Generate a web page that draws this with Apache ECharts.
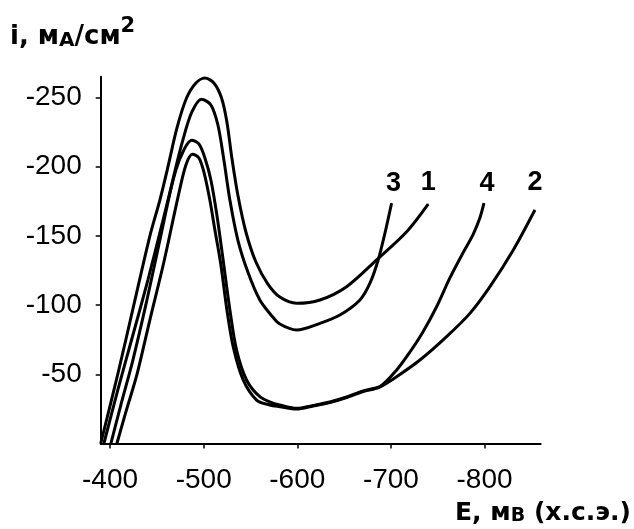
<!DOCTYPE html>
<html>
<head>
<meta charset="utf-8">
<script src="https://cdn.jsdelivr.net/npm/echarts@6/dist/echarts.min.js"></script>
<style>
  html, body { margin: 0; padding: 0; background: #fff; }
  #chart { width: 634px; height: 529px; }
</style>
</head>
<body>
<div id="chart"></div>
<script>
// поляризационные кривые: E, мВ (х.с.э.) и i, мА/см2
const e1 = [-390, -408.3, -425.4, -442.5, -453.2, -461.8, -471.4, -481.7, -491.7, -501.3, -510.9, -519.1, -524.8, -530.1, -536.5, -545.1, -555.8, -568.6, -581.4, -599.3, -624.2, -652.7, -684.7, -716.8, -739.8]
const i1 = [0, -50.2, -100.1, -149.9, -175.9, -199.8, -227.9, -249.6, -260.5, -264, -260.5, -249.6, -232.3, -206.3, -179.5, -152.8, -131.1, -115.2, -105.8, -101.3, -103.7, -113.3, -132.6, -153, -173]

const e2 = [-393.4, -408.3, -424.4, -440.4, -455.3, -470.3, -478.8, -487.1, -494.9, -501.3, -507.7, -514.1, -520.5, -528, -535.1, -545.8, -560, -574.3, -581.4, -599.3, -617, -634.8, -652.7, -670.4, -688.2, -706.1, -731, -759.5, -784.4, -805.8, -830.7, -853.8]
const i2 = [0, -38.7, -78.4, -118.1, -157.9, -197.6, -212.1, -219, -216.4, -206.3, -190.4, -165.1, -134, -96.5, -67.6, -45.9, -33.8, -29, -27.8, -25.4, -27.5, -30, -33.6, -38, -41, -48.3, -60.3, -77.2, -94, -113.3, -139.8, -168.7]

const e3 = [-400.9, -411.5, -424.4, -438.2, -452.1, -467.1, -477.8, -487.4, -497.8, -507.7, -515.2, -521.6, -528, -536.5, -547.2, -560, -572.9, -581.4, -599.3, -624.2, -645.5, -666.9, -677.6, -686.4, -693.6, -700.7]
const i3 = [0, -27.8, -60.3, -100.1, -143.4, -190.4, -219.3, -239.5, -248.7, -244.6, -230.1, -204.8, -175.9, -147, -123.9, -103.7, -92.1, -86.3, -82, -86.8, -92.8, -103.7, -115.8, -132.6, -151.9, -173.6]

const e4 = [-407.3, -416.9, -428.6, -442.5, -457.5, -472.4, -481, -488.1, -494.9, -500.2, -506.6, -512, -518.4, -524.8, -531.5, -542.2, -556.5, -570.7, -581.4, -599.3, -617, -634.8, -652.7, -670.4, -688.2, -706.1, -720.3, -734.2, -748.8, -763, -776.9, -787.6, -795, -799.4]
const i4 = [0, -22.8, -49.5, -89.2, -131.1, -177.4, -201.2, -209, -206.3, -196.2, -175.9, -154.2, -128.9, -96.5, -70, -45.9, -31.4, -27.8, -26.6, -24.9, -27.1, -29.6, -33.2, -37.6, -41, -53.1, -66.1, -80.6, -98.8, -119.6, -137.6, -150.7, -162.9, -173.6]

const curveNames = ['1', '2', '3', '4']
const xTicks = [-400, -500, -600, -700, -800]
const yTicks = [-250, -200, -150, -100, -50]

const sans = 'Liberation Sans, Arial, sans-serif'
const wide = 'DejaVu Sans, sans-serif'

const curves = [[e1, i1], [e2, i2], [e3, i3], [e4, i4]]
// сдвиги подписей номеров кривых над концом линии
const labelShift = [[0, -2], [0, -8], [2, -1], [3, -1]]

const chart = echarts.init(document.getElementById('chart'))

const option = {
  animation: false,
  grid: { left: 100.7, right: 93.3, top: 76.7, bottom: 85.5, outerBoundsMode: 'none' },
  xAxis: {
    type: 'value',
    inverse: true,
    min: -860,
    max: -390,
    splitLine: { show: false },
    axisLine: { onZero: false, lineStyle: { color: '#000', width: 2 } },
    axisTick: { customValues: xTicks, length: 5, lineStyle: { color: '#000', width: 1.5 } },
    axisLabel: { customValues: xTicks, margin: 23, fontSize: 28, color: '#000', fontFamily: sans }
  },
  yAxis: {
    type: 'value',
    inverse: true,
    min: -265,
    max: 0,
    splitLine: { show: false },
    axisLine: { onZero: false, lineStyle: { color: '#000', width: 2 } },
    axisTick: { customValues: yTicks, length: 5, lineStyle: { color: '#000', width: 1.5 } },
    axisLabel: { customValues: yTicks, margin: 19, fontSize: 28, color: '#000', fontFamily: sans }
  },
  series: curves.map(([e, i], k) => ({
    type: 'line',
    name: curveNames[k],
    smooth: 0.3,
    symbol: 'none',
    clip: false,
    silent: true,
    lineStyle: { color: '#000', width: 3 },
    data: e.map((x, j) => j === e.length - 1
      ? {
          value: [x, i[j]],
          symbol: 'circle',
          symbolSize: 1,
          itemStyle: { color: '#000' },
          label: {
            show: true,
            position: 'top',
            distance: 5,
            offset: labelShift[k],
            formatter: curveNames[k],
            fontSize: 27,
            fontWeight: 'bold',
            color: '#000',
            fontFamily: sans
          }
        }
      : [x, i[j]])
  })),
  graphic: [
    {
      type: 'text',
      left: 10,
      top: 24.7,
      style: {
        text: '{a|i, м}{b|А}{a|/см}',
        fill: '#000',
        rich: {
          a: { fontSize: 26, fontWeight: 'bold', fontFamily: wide, fill: '#000' },
          b: { fontSize: 20, fontWeight: 'bold', fontFamily: wide, fill: '#000', verticalAlign: 'bottom' }
        }
      }
    },
    {
      type: 'text',
      left: 120.5,
      top: 15.8,
      style: { text: '2', fill: '#000', font: 'bold 21px ' + wide }
    },
    {
      type: 'text',
      right: 3,
      top: 500.8,
      style: {
        text: '{a|E, м}{b|В}{a| (х.с.э.)}',
        fill: '#000',
        rich: {
          a: { fontSize: 25, fontWeight: 'bold', fontFamily: wide, fill: '#000' },
          b: { fontSize: 19, fontWeight: 'bold', fontFamily: wide, fill: '#000', verticalAlign: 'bottom' }
        }
      }
    }
  ]
}

chart.setOption(option)
</script>
</body>
</html>
